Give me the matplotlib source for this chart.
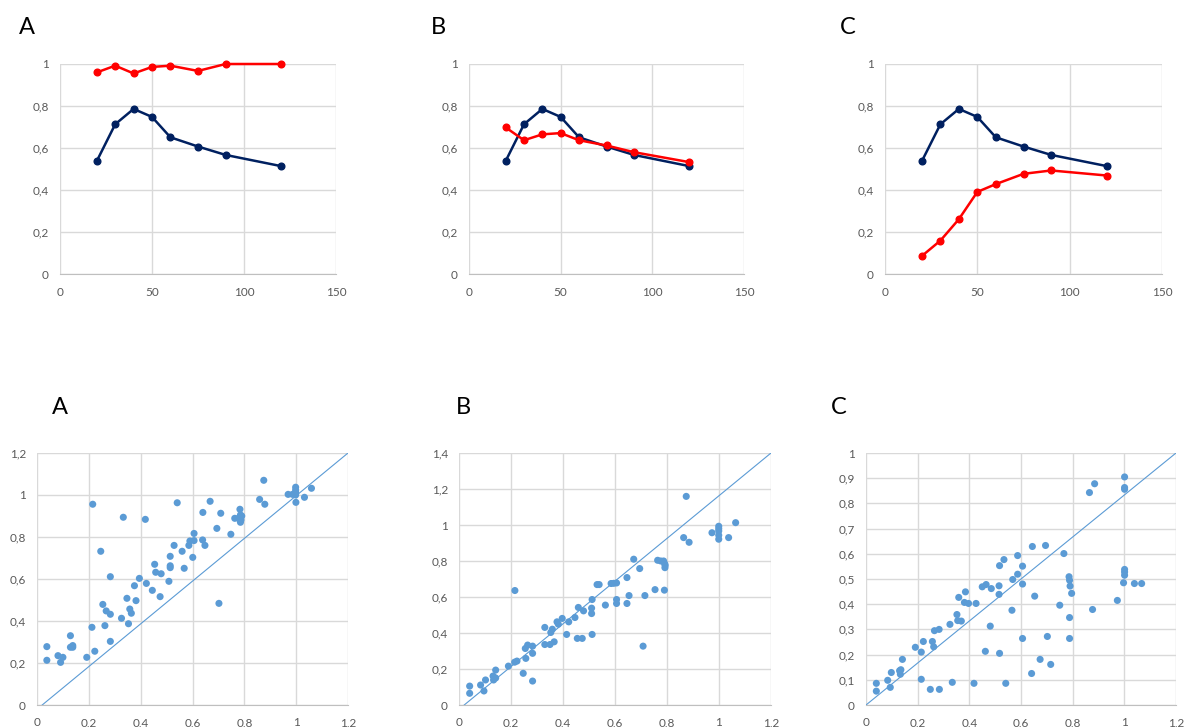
import matplotlib
matplotlib.use("Agg")
import matplotlib.pyplot as plt
from matplotlib.ticker import MultipleLocator, FuncFormatter

plt.rcParams['font.family'] = ['Lato', 'DejaVu Sans']

# top row: same x for every series
t_x = [20, 30, 40, 50, 60, 75, 90, 120]
navy_y = [0.538, 0.713, 0.786, 0.748, 0.651, 0.607, 0.567, 0.514]
red_a = [0.960, 0.992, 0.955, 0.986, 0.992, 0.967, 1.0, 1.0]
red_b = [0.698, 0.637, 0.665, 0.671, 0.637, 0.612, 0.580, 0.533]
red_c = [0.086, 0.159, 0.261, 0.391, 0.428, 0.477, 0.493, 0.469]

# bottom row scatter
sa_x = [0.038, 0.038, 0.081, 0.091, 0.100, 0.129, 0.129, 0.138, 0.138, 0.192,
        0.212, 0.215, 0.223, 0.246, 0.254, 0.262, 0.267, 0.283, 0.283, 0.283,
        0.326, 0.333, 0.347, 0.353, 0.358, 0.364, 0.376, 0.382, 0.395, 0.418,
        0.422, 0.445, 0.454, 0.458, 0.475, 0.479, 0.509, 0.514, 0.514, 0.514,
        0.529, 0.541, 0.560, 0.568, 0.586, 0.590, 0.601, 0.606, 0.606, 0.639,
        0.648, 0.640, 0.668, 0.694, 0.709, 0.702, 0.748, 0.763, 0.783, 0.777,
        0.787, 0.785, 0.790, 0.785, 0.859, 0.875, 0.879, 0.969, 0.986, 0.998,
        0.998, 0.998, 0.998, 0.999, 1.032, 1.059]
sa_y = [0.278, 0.213, 0.235, 0.203, 0.227, 0.330, 0.275, 0.283, 0.275, 0.227,
        0.370, 0.956, 0.256, 0.732, 0.479, 0.378, 0.448, 0.432, 0.611, 0.303,
        0.413, 0.894, 0.508, 0.387, 0.457, 0.437, 0.568, 0.497, 0.603, 0.884,
        0.579, 0.546, 0.670, 0.632, 0.516, 0.625, 0.589, 0.708, 0.663, 0.654,
        0.760, 0.963, 0.732, 0.651, 0.760, 0.781, 0.703, 0.817, 0.783, 0.786,
        0.760, 0.917, 0.970, 0.841, 0.913, 0.484, 0.813, 0.889, 0.932, 0.889,
        0.881, 0.905, 0.900, 0.870, 0.979, 1.070, 0.956, 1.003, 1.003, 1.037,
        1.024, 1.013, 1.000, 0.965, 0.989, 1.032]

sb_x = [0.041, 0.041, 0.083, 0.096, 0.102, 0.131, 0.133, 0.141, 0.141, 0.190,
        0.214, 0.215, 0.223, 0.247, 0.257, 0.255, 0.264, 0.283, 0.283, 0.283,
        0.330, 0.330, 0.350, 0.353, 0.359, 0.366, 0.377, 0.382, 0.397, 0.414,
        0.422, 0.446, 0.459, 0.455, 0.474, 0.479, 0.510, 0.512, 0.510, 0.512,
        0.531, 0.539, 0.563, 0.585, 0.595, 0.606, 0.606, 0.606, 0.646, 0.646,
        0.654, 0.672, 0.695, 0.708, 0.715, 0.754, 0.764, 0.776, 0.787, 0.790,
        0.791, 0.793, 0.792, 0.864, 0.874, 0.885, 0.973, 0.999, 0.999, 0.999,
        0.999, 0.999, 1.037, 1.064]
sb_y = [0.105, 0.065, 0.111, 0.078, 0.139, 0.161, 0.139, 0.150, 0.194, 0.216,
        0.238, 0.636, 0.244, 0.176, 0.259, 0.314, 0.333, 0.327, 0.287, 0.133,
        0.431, 0.336, 0.336, 0.403, 0.421, 0.351, 0.462, 0.449, 0.481, 0.392,
        0.462, 0.486, 0.542, 0.370, 0.370, 0.523, 0.538, 0.586, 0.508, 0.392,
        0.669, 0.669, 0.555, 0.675, 0.676, 0.678, 0.586, 0.564, 0.708, 0.564,
        0.608, 0.810, 0.758, 0.327, 0.608, 0.641, 0.804, 0.800, 0.800, 0.638,
        0.785, 0.776, 0.763, 0.930, 1.159, 0.904, 0.957, 0.993, 0.980, 0.967,
        0.943, 0.921, 0.930, 1.013]

sc_x = [0.040, 0.040, 0.084, 0.094, 0.098, 0.130, 0.135, 0.133, 0.141, 0.191,
        0.214, 0.214, 0.222, 0.249, 0.257, 0.262, 0.265, 0.283, 0.284, 0.325,
        0.334, 0.352, 0.359, 0.355, 0.369, 0.381, 0.385, 0.397, 0.426, 0.418,
        0.450, 0.465, 0.462, 0.481, 0.485, 0.517, 0.515, 0.515, 0.517, 0.534,
        0.541, 0.565, 0.568, 0.587, 0.587, 0.606, 0.606, 0.606, 0.644, 0.641,
        0.653, 0.674, 0.695, 0.702, 0.715, 0.750, 0.766, 0.786, 0.788, 0.790,
        0.796, 0.788, 0.788, 0.865, 0.877, 0.885, 0.973, 0.997, 1.001, 1.001,
        1.001, 1.001, 1.001, 1.001, 1.039, 1.067]
sc_y = [0.086, 0.055, 0.098, 0.070, 0.129, 0.136, 0.140, 0.122, 0.181, 0.229,
        0.210, 0.102, 0.252, 0.062, 0.252, 0.231, 0.295, 0.300, 0.062, 0.320,
        0.090, 0.359, 0.427, 0.335, 0.333, 0.407, 0.449, 0.403, 0.403, 0.086,
        0.469, 0.478, 0.213, 0.313, 0.462, 0.553, 0.473, 0.439, 0.205, 0.577,
        0.086, 0.376, 0.498, 0.519, 0.593, 0.551, 0.480, 0.264, 0.629, 0.125,
        0.432, 0.181, 0.633, 0.272, 0.161, 0.396, 0.601, 0.509, 0.495, 0.472,
        0.443, 0.347, 0.264, 0.843, 0.379, 0.878, 0.415, 0.485, 0.538, 0.528,
        0.515, 0.905, 0.863, 0.856, 0.482, 0.482]

# diagonal reference lines (corner to corner of each plot area)
diag_a = ([0.02, 1.2], [0, 1.2])
diag_b = ([0.02, 1.2], [0, 1.4])
diag_c = ([0.0, 1.2], [0, 1.0])

NAVY = '#002060'
RED = '#ff0000'
DOT = '#5b9bd5'
GRID = '#d9d9d9'
TICK = '#595959'

W, H = 1184, 727


def comma(v, pos):
    return '{:g}'.format(round(v, 2)).replace('.', ',')


def style(ax, xmax, xstep, ymax, ystep):
    ax.set_xlim(0, xmax)
    ax.set_ylim(0, ymax)
    ax.xaxis.set_major_locator(MultipleLocator(xstep))
    ax.yaxis.set_major_locator(MultipleLocator(ystep))
    ax.xaxis.set_major_formatter(FuncFormatter(comma))
    ax.yaxis.set_major_formatter(FuncFormatter(comma))
    ax.grid(True, color=GRID, linewidth=1.0)
    ax.set_axisbelow(True)
    for s in ['top', 'right', 'left']:
        ax.spines[s].set_visible(False)
    ax.spines['bottom'].set_color('#bfbfbf')
    ax.tick_params(length=0, labelsize=8.5, colors=TICK)
    ax.tick_params(axis='x', pad=9)
    ax.tick_params(axis='y', pad=8)


def box(l, t, r, b):
    return [l / W, 1 - b / H, (r - l) / W, (b - t) / H]


fig = plt.figure(figsize=(W / 100, H / 100), dpi=100)

top_boxes = [box(60, 64, 336, 274), box(469, 64, 744, 274), box(885, 64, 1162, 274)]
for rect, red in zip(top_boxes, [red_a, red_b, red_c]):
    ax = fig.add_axes(rect)
    style(ax, 150, 50, 1, 0.2)
    ax.plot(t_x, navy_y, color=NAVY, lw=1.8, marker='o', ms=4.8, clip_on=False, zorder=3)
    ax.plot(t_x, red, color=RED, lw=1.8, marker='o', ms=4.8, clip_on=False, zorder=4)

bot_boxes = [box(37, 453, 348, 705), box(459, 453, 771, 705), box(866, 453, 1176, 705)]
scat = [(sa_x, sa_y, diag_a, 1.2, 0.2), (sb_x, sb_y, diag_b, 1.4, 0.2), (sc_x, sc_y, diag_c, 1.0, 0.1)]
for rect, (xs, ys, dg, ymax, ystep) in zip(bot_boxes, scat):
    ax = fig.add_axes(rect)
    style(ax, 1.2, 0.2, ymax, ystep)
    ax.plot(dg[0], dg[1], color=DOT, lw=0.8, zorder=2)
    ax.scatter(xs, ys, s=26, color=DOT, edgecolors='none', zorder=3, clip_on=False)

for lab, x, y in [('A', 27, 28), ('B', 438, 28), ('C', 848, 28),
                  ('A', 60, 408), ('B', 463, 408), ('C', 839, 408)]:
    fig.text(x / W, 1 - y / H, lab, fontsize=17, ha='center', va='center', color='black')

fig.savefig('out.png', dpi=100, facecolor='white')
